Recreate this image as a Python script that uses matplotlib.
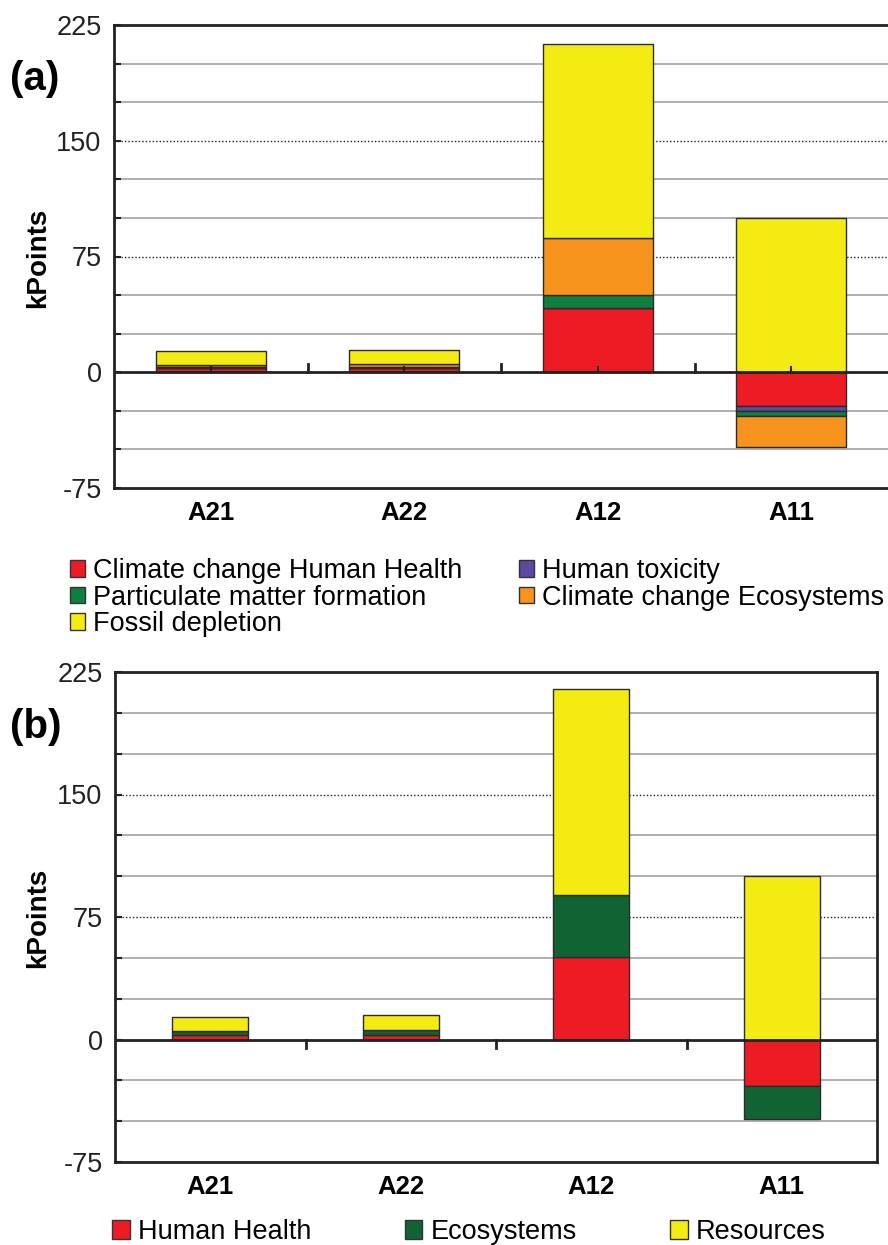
import numpy as np
import matplotlib.pyplot as plt
from matplotlib.patches import Patch
from matplotlib.ticker import MultipleLocator
import matplotlib.transforms as mtransforms

plt.rcParams['font.family'] = ['Liberation Sans', 'DejaVu Sans']
plt.rcParams['axes.unicode_minus'] = False

# categories
categories = ['A21', 'A22', 'A12', 'A11']

# panel (a) - midpoint categories (kPoints)
cc_human_health = [2.5, 2.5, 41.5, -22.0]
human_toxicity = [0.3, 0.3, 0.3, -3.2]
particulate_matter = [0.7, 0.8, 8.1, -3.0]
cc_ecosystems = [1.5, 1.8, 36.9, -20.0]
fossil_depletion = [8.5, 8.7, 125.8, 100.0]

# panel (b) - endpoint categories (kPoints)
human_health = [3.0, 3.0, 50.8, -28.6]
ecosystems = [2.5, 3.0, 37.4, -19.8]
resources = [8.0, 9.0, 126.1, 100.0]

labels_a = ['Climate change Human Health', 'Human toxicity', 'Particulate matter formation',
            'Climate change Ecosystems', 'Fossil depletion']
colors_a = ['#ED1C24', '#5C4A9E', '#0F7F3F', '#F7941D', '#F4EB12']
labels_b = ['Human Health', 'Ecosystems', 'Resources']
colors_b = ['#ED1C24', '#116334', '#F4EB12']


def stacked(ax, series, colors, width):
    x = np.arange(len(categories))
    pos = np.zeros(len(categories))
    neg = np.zeros(len(categories))
    for vals, col in zip(series, colors):
        vals = np.array(vals)
        bottom = np.where(vals >= 0, pos, neg)
        ax.bar(x, vals, width, bottom=bottom, color=col, edgecolor='#2b2b2b',
               linewidth=1.0, zorder=3)
        pos = pos + np.where(vals >= 0, vals, 0)
        neg = neg + np.where(vals < 0, vals, 0)


def style(ax, tick_up, center_ticks):
    ax.set_xlim(-0.5, 3.5)
    ax.set_ylim(-75, 225)
    ax.yaxis.set_major_locator(MultipleLocator(75))
    ax.yaxis.set_minor_locator(MultipleLocator(25))
    ax.tick_params(axis='y', which='both', direction='in', length=5, width=1.5,
                   labelsize=19.5, pad=9, colors='#222222')
    ax.set_xticks(range(len(categories)))
    ax.set_xticklabels(categories, fontweight='bold', fontsize=18.5)
    ax.tick_params(axis='x', length=0, pad=9)
    for v in [-50, -25, 25, 50, 100, 125, 175, 200]:
        ax.axhline(v, color='#9a9a9a', lw=1.1, zorder=1)
    for v in [75, 150]:
        ax.axhline(v, color='#222222', lw=1.0, ls=(0, (1, 1.5)), zorder=1)
    ax.axhline(0, color='#222222', lw=2.0, zorder=4)
    for s in ['left', 'top', 'bottom', 'right']:
        ax.spines[s].set_linewidth(2.0)
        ax.spines[s].set_color('#222222')
    trans = mtransforms.blended_transform_factory(ax.transData, ax.transAxes)
    z = 0.25
    h = 0.018 if tick_up else -0.018
    for b in [0.5, 1.5, 2.5]:
        ax.plot([b, b], [z, z + h], transform=trans, color='#222222', lw=2, zorder=4,
                clip_on=False)
    if center_ticks:
        for c in range(len(categories)):
            ax.plot([c, c], [z, z + h * 0.6], transform=trans, color='#222222', lw=1.5,
                    zorder=4)


fig = plt.figure(figsize=(8.88, 12.45), dpi=100)

ax1 = fig.add_axes([114 / 888, 1 - 488 / 1245, 774 / 888, 463 / 1245])
stacked(ax1, [cc_human_health, human_toxicity, particulate_matter, cc_ecosystems, fossil_depletion],
        colors_a, 0.57)
style(ax1, True, True)
ax1.spines['right'].set_visible(False)

ax2 = fig.add_axes([115 / 888, 1 - 1162 / 1245, 762 / 888, 490 / 1245])
stacked(ax2, [human_health, ecosystems, resources], colors_b, 0.40)
style(ax2, False, False)

fig.text(38 / 888, 1 - 258 / 1245, 'kPoints', rotation=90, fontsize=20, fontweight='bold',
         ha='center', va='center')
fig.text(38 / 888, 1 - 918 / 1245, 'kPoints', rotation=90, fontsize=20, fontweight='bold',
         ha='center', va='center')
fig.text(10 / 888, 1 - 79 / 1245, '(a)', fontsize=29, fontweight='bold', ha='left', va='center')
fig.text(10 / 888, 1 - 727 / 1245, '(b)', fontsize=29, fontweight='bold', ha='left', va='center')

# legend (a): column-wise order
order = [0, 2, 4, 1, 3]
handles_a = [Patch(facecolor=colors_a[i], edgecolor='#333333', lw=1) for i in order]
fig.legend(handles_a, [labels_a[i] for i in order], ncol=2, loc='upper left',
           bbox_to_anchor=(70 / 888, 1 - 558 / 1245), frameon=False, fontsize=19.5,
           handlelength=0.55, handleheight=0.55, handletextpad=0.3, columnspacing=2.1,
           labelspacing=0.02, borderpad=0, borderaxespad=0)

handles_b = [Patch(facecolor=c, edgecolor='#333333', lw=1) for c in colors_b]
fig.legend(handles_b, labels_b, ncol=3, loc='upper left',
           bbox_to_anchor=(112 / 888, 1 - 1219 / 1245), frameon=False, fontsize=19.5,
           handlelength=0.65, handleheight=0.65, handletextpad=0.3, columnspacing=3.45,
           borderpad=0, borderaxespad=0)

fig.savefig('out.png', dpi=100)
